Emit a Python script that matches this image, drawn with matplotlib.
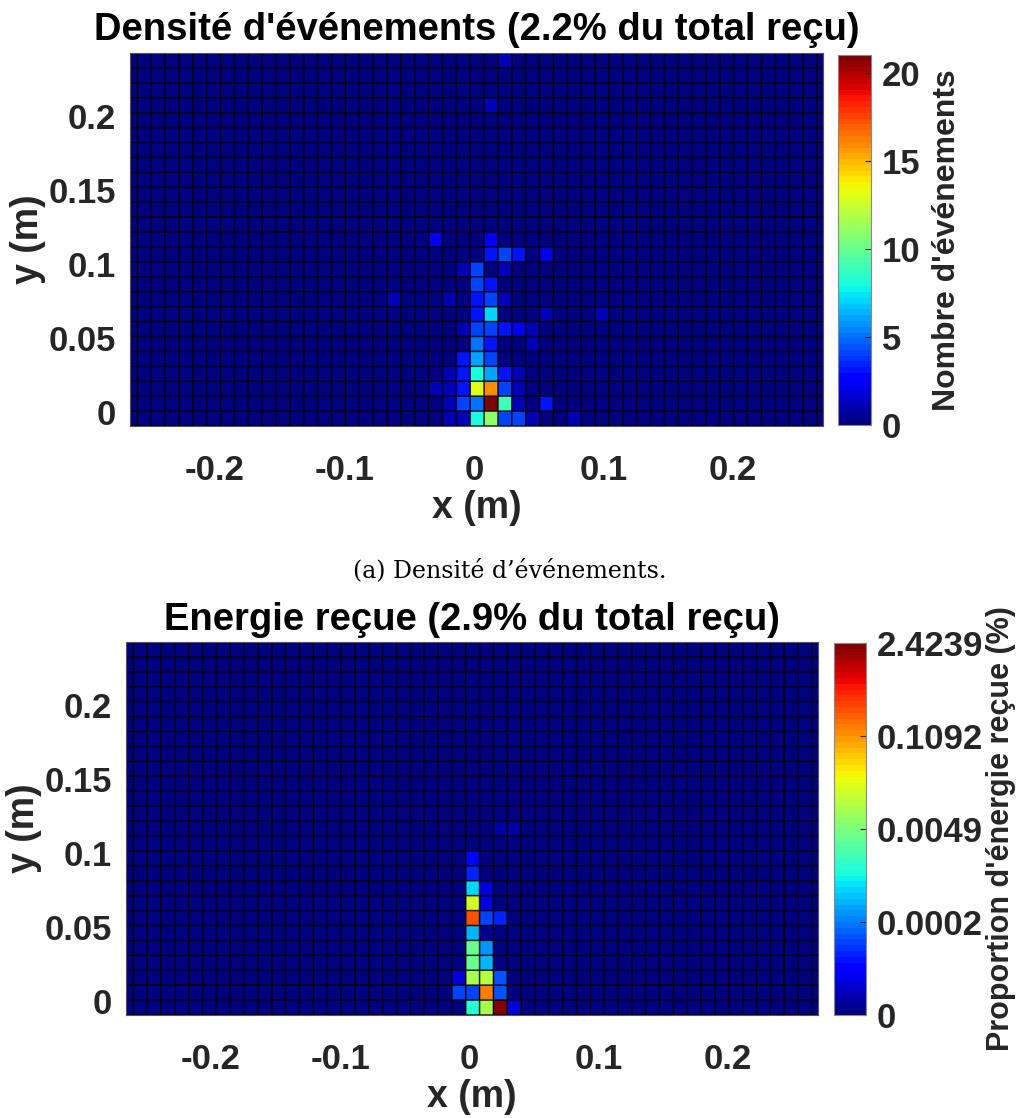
import numpy as np
import matplotlib
matplotlib.use("Agg")
import matplotlib.pyplot as plt
from matplotlib.colors import LogNorm

# ---------------- data ----------------
# grid: 51 x-bins (index 25 contains x=0), 25 y-bins (index 0 at y~0)
n_xbins = 51
n_ybins = 25

# Top: event counts (x-bin index, y-bin index, count)
count_xbin = [23, 24, 25, 26, 27, 28, 29, 32,
              23, 24, 25, 26, 27, 28, 30,
              22, 23, 24, 25, 26, 27, 28,
              23, 24, 25, 26, 27, 28,
              24, 25, 26,
              25, 26, 29,
              24, 25, 26, 27, 28, 29,
              25, 26, 30, 34,
              19, 23, 25, 26, 27,
              25, 26,
              24, 25, 27,
              26, 27, 28, 30,
              22, 26,
              26, 27]
count_ybin = [0, 0, 0, 0, 0, 0, 0, 0,
              1, 1, 1, 1, 1, 1, 1,
              2, 2, 2, 2, 2, 2, 2,
              3, 3, 3, 3, 3, 3,
              4, 4, 4,
              5, 5, 5,
              6, 6, 6, 6, 6, 6,
              7, 7, 7, 7,
              8, 8, 8, 8, 8,
              9, 9,
              10, 10, 10,
              11, 11, 11, 11,
              12, 12,
              21, 24]
count_value = [1, 1, 8, 11, 4, 4, 1, 1,
               1, 4, 5, 21, 9, 1, 3,
               1, 1, 3, 13, 16, 4, 1,
               1, 3, 8, 6, 3, 1,
               3, 6, 4,
               5, 3, 1,
               1, 4, 4, 3, 2, 1,
               3, 7, 1, 1,
               1, 1, 3, 4, 1,
               4, 3,
               1, 4, 1,
               3, 4, 3, 2,
               2, 2,
               1, 1]
count_max = 21

# Bottom: proportion of received energy in % (x-bin index, y-bin index, value)
energy_xbin = [25, 26, 27, 28,
               24, 25, 26, 27,
               24, 25, 26, 27,
               25, 26,
               25, 26,
               25, 26,
               25, 26, 27,
               25, 26,
               25, 26,
               25,
               25,
               27, 28, 27]
energy_ybin = [0, 0, 0, 0,
               1, 1, 1, 1,
               2, 2, 2, 2,
               3, 3,
               4, 4,
               5, 5,
               6, 6, 6,
               7, 7,
               8, 8,
               9,
               10,
               12, 12, 24]
energy_value = [0.00143, 0.0104, 2.4239, 3.1e-5,
                1.2e-4, 1.2e-4, 0.158, 1.4e-4,
                2.7e-5, 0.0104, 0.0118, 1.5e-4,
                0.0034, 0.00041,
                0.0034, 0.00032,
                0.00041, 1.45e-5,
                0.26, 1.1e-4, 8e-5,
                0.017, 3.1e-5,
                0.0006, 3.1e-5,
                8.2e-5,
                5.7e-5,
                1.5e-5, 1.5e-5, 1.2e-5]
energy_max = 2.4239
energy_floor = 1e-5

count_ticks = [0, 5, 10, 15, 20]
x_ticks = [-0.2, -0.1, 0, 0.1, 0.2]
x_ticklabels = ["-0.2", "-0.1", "0", "0.1", "0.2"]
y_ticks = [0, 0.05, 0.1, 0.15, 0.2]
y_ticklabels = ["0", "0.05", "0.1", "0.15", "0.2"]

title_top = "Densité d'événements (2.2% du total reçu)"
title_bottom = "Energie reçue (2.9% du total reçu)"
cbar_label_top = "Nombre d'événements"
cbar_label_bottom = "Proportion d'énergie reçue (%)"
caption_top = "(a) Densité d’événements."

# ---------------- geometry ----------------
bin_w = 0.01071
x_edges = -0.0029 + (np.arange(n_xbins + 1) - 25) * bin_w
y_edges = np.linspace(-0.0095, 0.2425, n_ybins + 1)
xlim = (-0.2656, 0.2695)
ylim = (-0.0095, 0.2425)

Z_count = np.zeros((n_ybins, n_xbins))
for xi, yi, v in zip(count_xbin, count_ybin, count_value):
    Z_count[yi, xi] = v
Z_energy = np.zeros((n_ybins, n_xbins))
for xi, yi, v in zip(energy_xbin, energy_ybin, energy_value):
    Z_energy[yi, xi] = v
Z_energy_disp = np.maximum(Z_energy, energy_floor)

# ---------------- style ----------------
plt.rcParams['font.family'] = ['Liberation Sans', 'DejaVu Sans']
plt.rcParams['font.weight'] = 'bold'
TXT = '#262626'
cmap = plt.get_cmap('jet', 64)
TICK_FS = 25

W, H = 1019, 1118
fig = plt.figure(figsize=(W / 100, H / 100), dpi=100)


def px_axes(l, t, r, b):
    return fig.add_axes([l / W, 1 - b / H, (r - l) / W, (b - t) / H])


def style_axes(ax, title):
    ax.set_xlim(*xlim)
    ax.set_ylim(*ylim)
    lv = ax.vlines(x_edges, y_edges[0], y_edges[-1], colors='black', linewidth=1.1, alpha=0.85)
    lh = ax.hlines(y_edges, x_edges[0], x_edges[-1], colors='black', linewidth=1.1, alpha=0.85)
    lv.set_snap(False)
    lh.set_snap(False)
    ax.set_xticks(x_ticks)
    ax.set_xticklabels(x_ticklabels)
    ax.set_yticks(y_ticks)
    ax.set_yticklabels(y_ticklabels)
    ax.tick_params(length=0, labelsize=TICK_FS, colors=TXT)
    ax.tick_params(axis='x', pad=20)
    ax.tick_params(axis='y', pad=10)
    ax.set_xlabel("x (m)", fontsize=27, color=TXT, fontweight='bold', labelpad=2)
    ax.set_ylabel("y (m)", fontsize=27, color=TXT, fontweight='bold', labelpad=2)
    ax.set_title(title, fontsize=27.5, fontweight='bold', color='black', pad=9)
    for s in ax.spines.values():
        s.set_color('#555555')
        s.set_linewidth(0.8)


ax1 = px_axes(130, 53, 823, 426)
m1 = ax1.pcolormesh(x_edges, y_edges, Z_count, cmap=cmap, vmin=0, vmax=count_max,
                    edgecolors='none', antialiased=False)
style_axes(ax1, title_top)
cax1 = px_axes(838, 55, 871, 425)
cb1 = fig.colorbar(m1, cax=cax1)
cb1.set_ticks(count_ticks)
cb1.ax.tick_params(labelsize=TICK_FS, colors=TXT, length=4, width=0.8, direction='in', pad=8)
cb1.outline.set_edgecolor('#888888')
cb1.set_label(cbar_label_top, fontsize=23, fontweight='bold', color=TXT, labelpad=8)

ax2 = px_axes(126, 642, 818, 1015)
norm = LogNorm(vmin=energy_floor, vmax=energy_max)
m2 = ax2.pcolormesh(x_edges, y_edges, Z_energy_disp, cmap=cmap, norm=norm,
                    edgecolors='none', antialiased=False)
style_axes(ax2, title_bottom)
cax2 = px_axes(834, 643, 866, 1015)
cb2 = fig.colorbar(m2, cax=cax2)
e_ticks = np.geomspace(energy_floor, energy_max, 5)
cb2.set_ticks(e_ticks)
cb2.set_ticklabels(["0"] + ["%.4f" % t for t in e_ticks[1:]])
cb2.ax.minorticks_off()
cb2.ax.tick_params(labelsize=TICK_FS, colors=TXT, length=4, width=0.8, direction='in', pad=8)
cb2.outline.set_edgecolor('#888888')
cb2.set_label(cbar_label_bottom, fontsize=22, fontweight='bold', color=TXT, labelpad=2)

fig.text(510 / W, 1 - 570 / H, caption_top, family='DejaVu Serif', fontweight='normal',
         fontsize=17, ha='center', va='center', color='black')

fig.savefig("out.png", dpi=100)
